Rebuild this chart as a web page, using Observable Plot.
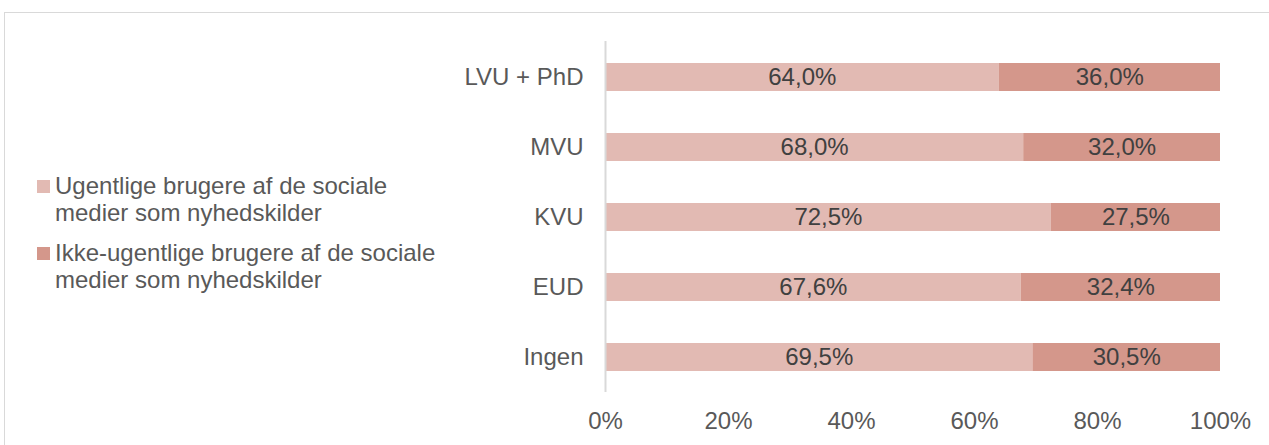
<!DOCTYPE html>
<html>
<head>
<meta charset="utf-8">
<script src="https://cdn.jsdelivr.net/npm/d3@7"></script>
<script src="https://cdn.jsdelivr.net/npm/@observablehq/plot@0.6"></script>
<style>
  html, body { margin: 0; padding: 0; background: #fff; overflow: hidden; }
  #wrap { position: relative; width: 1269px; height: 445px; font-family: "Liberation Sans", Arial, sans-serif; }
  #frame { position: absolute; left: 4px; top: 12px; width: 1300px; height: 500px; border-top: 1px solid #d9d9d9; border-left: 1px solid #d9d9d9; }
  #chart { position: absolute; left: 0; top: 0; }
  #legend { position: absolute; left: 37px; top: 172px; color: #595959; font-size: 24px; line-height: 27px; white-space: nowrap; }
  .item { position: relative; padding-left: 18px; margin-bottom: 13px; }
  .sw { position: absolute; left: 0; top: 8px; width: 13px; height: 13px; }
</style>
</head>
<body>
<div id="wrap">
  <div id="frame"></div>
  <div id="chart"></div>
  <div id="legend"></div>
</div>
<script>
const categories = ["LVU + PhD", "MVU", "KVU", "EUD", "Ingen"];
const seriesNames = [
  "Ugentlige brugere af de sociale medier som nyhedskilder",
  "Ikke-ugentlige brugere af de sociale medier som nyhedskilder"
];
const weekly = [64.0, 68.0, 72.5, 67.6, 69.5];
const notWeekly = [36.0, 32.0, 27.5, 32.4, 30.5];
const xTicks = [0, 20, 40, 60, 80, 100];
const colors = ["#e2bab3", "#d4978b"];

const data = [];
categories.forEach((c, i) => {
  data.push({cat: c, series: seriesNames[0], value: weekly[i]});
  data.push({cat: c, series: seriesNames[1], value: notWeekly[i]});
});

const fmt = v => v.toFixed(1).replace(".", ",") + "%";

const chart = Plot.plot({
  width: 1269,
  height: 445,
  marginLeft: 605,
  marginRight: 49,
  marginTop: 41,
  marginBottom: 53,
  style: {fontFamily: "Liberation Sans, Arial, sans-serif", fontSize: "24px", color: "#595959", background: "transparent"},
  x: {domain: [0, 100], ticks: xTicks, tickFormat: d => d + "%", tickSize: 0, tickPadding: 19, label: null},
  y: {domain: categories, paddingInner: 0.6, paddingOuter: 0.3, tickSize: 0, tickPadding: 22, label: null},
  color: {domain: seriesNames, range: colors},
  marks: [
    Plot.barX(data, Plot.stackX({x: "value", y: "cat", fill: "series", z: "series", order: seriesNames})),
    Plot.text(data, Plot.stackX({x: "value", y: "cat", z: "series", order: seriesNames, text: d => fmt(d.value), fill: "#404040", fontSize: 24})),
    Plot.ruleX([0], {stroke: "#d9d9d9", strokeWidth: 2})
  ]
});
document.getElementById("chart").appendChild(chart);

const legend = document.getElementById("legend");
seriesNames.forEach((name, i) => {
  const words = name.split(" ");
  const line1 = words.slice(0, words.indexOf("sociale") + 1).join(" ");
  const line2 = words.slice(words.indexOf("sociale") + 1).join(" ");
  const item = document.createElement("div");
  item.className = "item";
  item.innerHTML = `<span class="sw" style="background:${colors[i]}"></span>${line1}<br>${line2}`;
  legend.appendChild(item);
});
</script>
</body>
</html>
